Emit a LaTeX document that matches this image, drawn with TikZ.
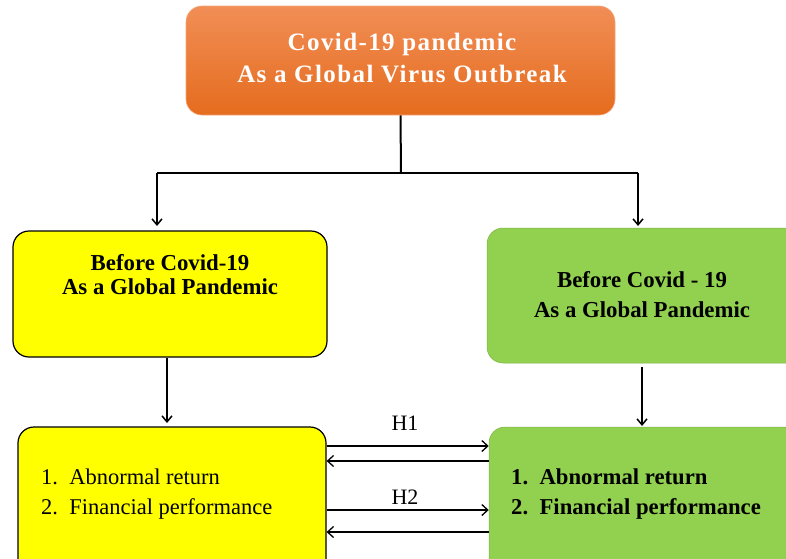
\documentclass[tikz,border=0pt]{standalone}
\usepackage{fontspec}
\setmainfont{Liberation Serif}
\newfontfamily\spacedserif[LetterSpace=5.6]{Liberation Serif}
\usetikzlibrary{arrows.meta}
\definecolor{ogtop}{RGB}{241,142,86}
\definecolor{ogbot}{RGB}{229,108,30}
\definecolor{ybox}{RGB}{255,255,0}
\definecolor{gbox}{RGB}{146,208,80}
\tikzset{
  box/.style={rectangle, rounded corners=16pt, inner sep=0pt},
  conn/.style={line width=2pt, black},
  arr/.style={conn, -{Straight Barb[length=6pt,width=10pt,line width=1.5pt]}},
  harr/.style={line width=1.6pt, -{Straight Barb[length=6pt,width=11pt,line width=1.3pt]}},
  lbl/.style={inner sep=0pt, anchor=base},
  toptext/.style={lbl, text=white, font=\spacedserif\bfseries\fontsize{25}{25}\selectfont},
  boxtext/.style={lbl, font=\bfseries\fontsize{22.8}{22.8}\selectfont},
}
\begin{document}
\begin{tikzpicture}[x=1pt,y=-1pt]
\useasboundingbox (0,0) rectangle (786,558);
\clip (0,0) rectangle (786,558);
% boxes
\node[box, top color=ogtop, bottom color=ogbot, draw=ogtop!80!white, line width=0.6pt,
      minimum width=429pt, minimum height=109pt] (top) at (400.5,60.5) {};
\node[box, fill=ybox, draw=black, line width=1.2pt, minimum width=314pt, minimum height=126pt] (lb1) at (170,294) {};
\node[box, fill=gbox, draw=gbox!85!black, line width=0.5pt, minimum width=320pt, minimum height=135pt] (rb1) at (647,295.5) {};
\node[box, fill=ybox, draw=black, line width=1.2pt, minimum width=308pt, minimum height=150pt] (lb2) at (172,502) {};
\node[box, fill=gbox, draw=gbox!85!black, line width=0.5pt, minimum width=320pt, minimum height=150pt] (rb2) at (649,502) {};
% texts
\node[toptext] (t1) at (402,50) {Covid-19 pandemic};
\node[toptext] (t2) at (402,82) {As a Global Virus Outbreak};
\node[boxtext] (l1a) at (170,270) {Before Covid-19};
\node[boxtext] (l1b) at (170,294) {As a Global Pandemic};
\node[boxtext] (r1a) at (642,287) {Before Covid - 19};
\node[boxtext] (r1b) at (642,317) {As a Global Pandemic};
\node[lbl, anchor=base west, font=\fontsize{22.5}{22.5}\selectfont] (l2a) at (41,484) {1.\ \ Abnormal return};
\node[lbl, anchor=base west, font=\fontsize{22.5}{22.5}\selectfont] (l2b) at (41,514) {2.\ \ Financial performance};
\node[lbl, anchor=base west, font=\bfseries\fontsize{22.7}{22.7}\selectfont] (r2a) at (511,484) {1.\ \ Abnormal return};
\node[lbl, anchor=base west, font=\bfseries\fontsize{22.7}{22.7}\selectfont] (r2b) at (511,514) {2.\ \ Financial performance};
\node[lbl, font=\fontsize{22}{22}\selectfont] (h1) at (405,430) {H1};
\node[lbl, font=\fontsize{22}{22}\selectfont] (h2) at (405,504) {H2};
% connectors
\coordinate (j) at (401,173);
\coordinate (jl) at (157,173);
\coordinate (jr) at (638,173);
\coordinate (a1) at (157,226);
\coordinate (a2) at (638,226);
\draw[conn] (top.south) -- (j);
\draw[conn] (jl) -- (jr);
\draw[arr] (jl) -- (a1);
\draw[arr] (jr) -- (a2);
\coordinate (s3) at (167,358);
\coordinate (e3) at (167,423);
\coordinate (s4) at (642,367);
\coordinate (e4) at (642,426);
\draw[arr] (s3) -- (e3);
\draw[arr] (s4) -- (e4);
% H arrows
\draw[harr] (lb2.east |- 0,446) -- (rb2.west |- 0,446);
\draw[harr] (rb2.west |- 0,461) -- (lb2.east |- 0,461);
\draw[harr] (lb2.east |- 0,510) -- (rb2.west |- 0,510);
\draw[harr] (rb2.west |- 0,532) -- (lb2.east |- 0,532);
\end{tikzpicture}
\end{document}
